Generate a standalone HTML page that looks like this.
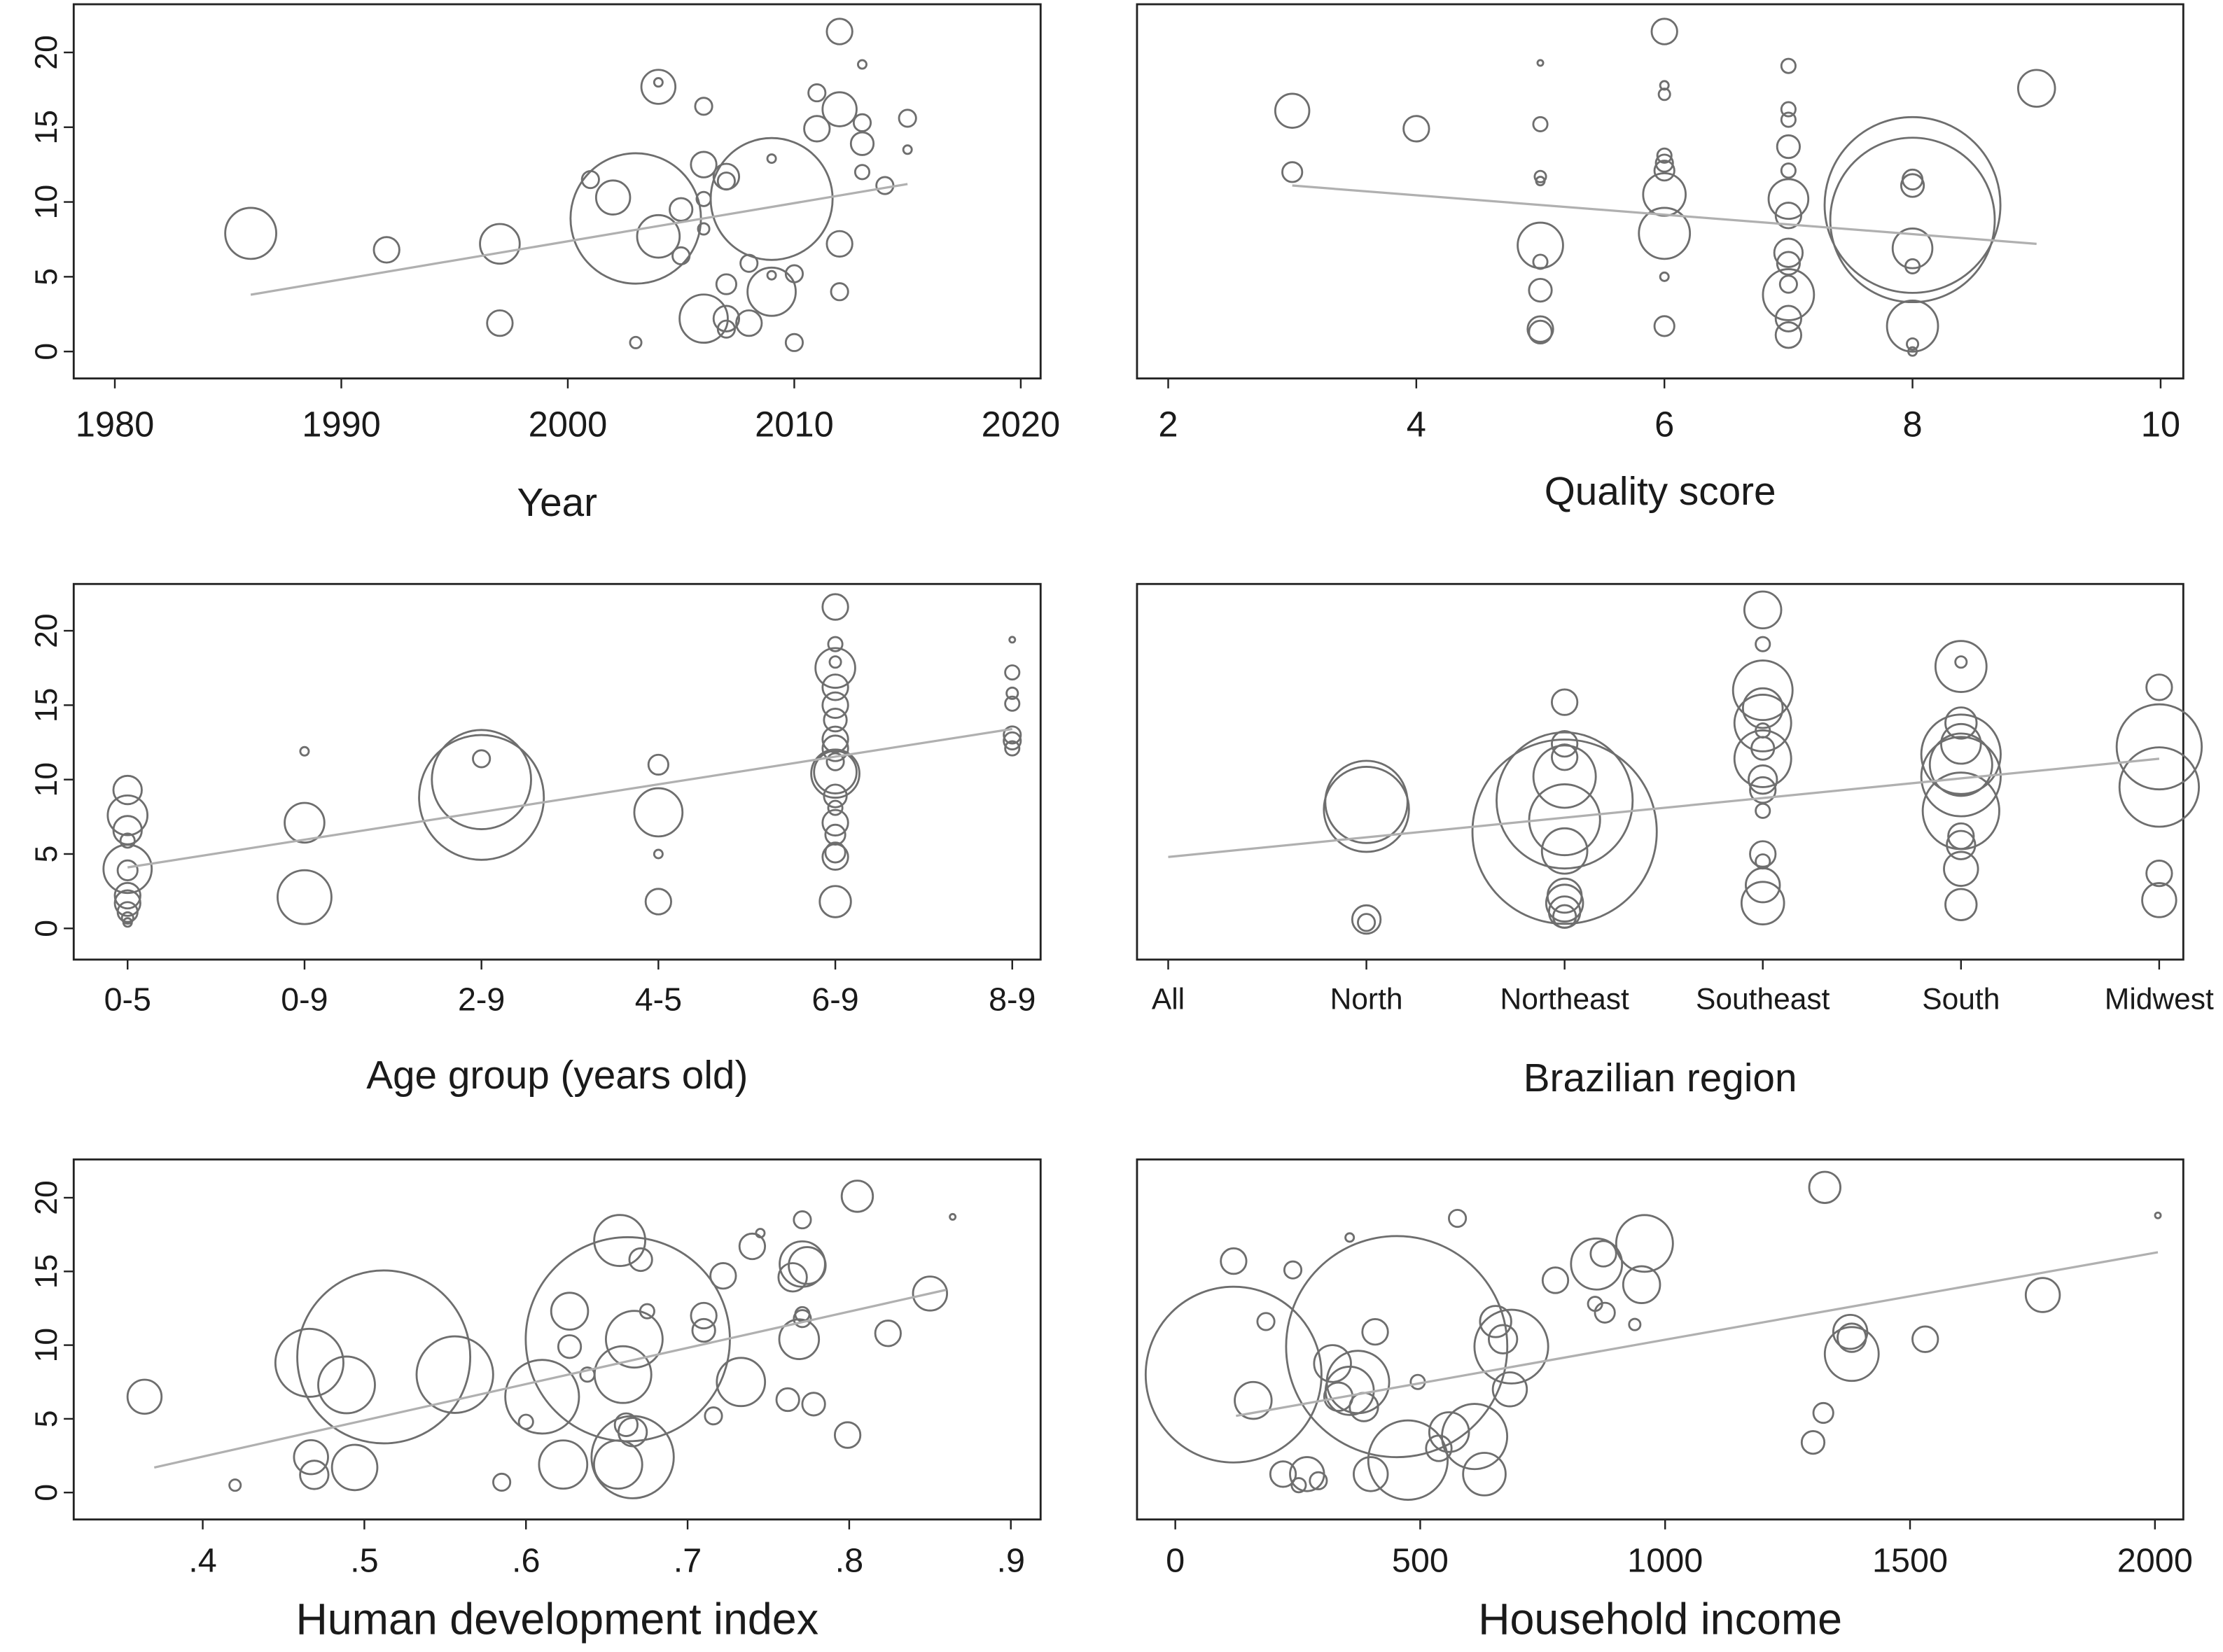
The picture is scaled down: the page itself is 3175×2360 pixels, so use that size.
<!DOCTYPE html>
<html><head><meta charset="utf-8">
<style>
html,body{margin:0;padding:0;background:#fff;}
svg{display:block;}
text{font-family:"Liberation Sans",Arial,sans-serif;fill:#1a1a1a;}
</style></head>
<body>
<svg id="chart" xmlns="http://www.w3.org/2000/svg" width="3175" height="2360" viewBox="0 0 1568 1165.5"></svg>
<script>
// ---- Panel 1: Year ----
const p1Years=[1986,1992,1997,1997,2001,2002,2003,2003,2004,2004,2004,2005,2005,2006,2006,2006,2006,2006,2007,2007,2007,2007,2007,2008,2008,2009,2009,2009,2009,2010,2010,2011,2011,2012,2012,2012,2012,2013,2013,2013,2013,2014,2015,2015];
const p1Values=[7.9,6.8,7.2,1.9,11.5,10.3,8.9,0.6,17.7,18.0,7.7,9.5,6.4,16.4,12.5,10.2,8.2,2.2,11.7,11.4,4.5,2.2,1.5,5.9,1.9,10.2,12.9,5.1,4.0,5.2,0.6,17.3,14.9,21.4,16.2,7.2,4.0,19.2,15.3,13.9,12.0,11.1,15.6,13.5];
const p1Sizes=[18,9,14,9,6,12,46,4,12,3,15,8,6,6,9,5,4,17,9,6,7,9,6,6,9,43,3,3,17,6,6,6,9,9,12,9,6,3,6,8,5,6,6,3];
const p1Fit=[[1986,3.8],[2015,11.2]];
const p1Ticks=[1980,1990,2000,2010,2020];
// ---- Panel 2: Quality score ----
const p2Scores=[3,3,4,5,5,5,5,5,5,5,5,5,6,6,6,6,6,6,6,6,6,6,7,7,7,7,7,7,7,7,7,7,7,7,7,8,8,8,8,8,8,8,8,8,9];
const p2Values=[16.1,12.0,14.9,19.3,15.2,11.7,11.4,7.1,6.0,4.1,1.5,1.3,21.4,17.8,17.2,13.1,12.6,12.1,10.5,7.9,5.0,1.7,19.1,16.2,15.5,13.7,12.1,10.2,9.1,6.6,5.9,4.5,3.8,2.2,1.1,11.5,11.1,9.8,8.8,6.9,5.7,1.7,0.5,0.0,17.6];
const p2Sizes=[12,7,9,2,5,4,3,16,5,8,9,8,9,3,4,5,6,7,15,18,3,7,5,5,5,8,5,14,9,10,8,6,18,9,9,7,8,62,58,14,5,18,4,3,13];
const p2Fit=[[3,11.1],[9,7.2]];
const p2Ticks=[2,4,6,8,10];
// ---- Panel 3: Age group ----
const p3Categories=["0-5","0-9","2-9","4-5","6-9","8-9"];
const p3Group=[0,0,0,0,0,0,0,0,0,0,0,1,1,1,2,2,2,3,3,3,3,4,4,4,4,4,4,4,4,4,4,4,4,4,4,4,4,4,4,4,5,5,5,5,5,5,5];
const p3Values=[9.3,7.6,6.6,5.9,4.0,3.9,2.2,1.7,1.1,0.7,0.4,11.9,7.1,2.1,11.4,10.0,8.8,11.0,7.8,5.0,1.8,21.6,19.1,17.9,17.5,16.2,15.0,14.0,12.7,12.1,11.2,10.5,10.4,8.9,8.1,7.1,6.3,5.1,4.8,1.8,19.4,17.2,15.8,15.1,13.0,12.6,12.1];
const p3Sizes=[10,14,10,5,17,7,9,9,7,4,3,3,14,19,6,35,44,7,17,3,9,9,5,4,14,9,9,8,9,9,6,15,17,8,5,9,7,7,9,11,2,5,4,5,6,6,5];
const p3Fit=[[0,4.1],[5,13.4]];
// ---- Panel 4: Brazilian region ----
const p4Categories=["All","North","Northeast","Southeast","South","Midwest"];
const p4Group=[1,1,1,1,2,2,2,2,2,2,2,2,2,2,2,2,3,3,3,3,3,3,3,3,3,3,3,3,3,3,3,4,4,4,4,4,4,4,4,4,4,4,4,5,5,5,5,5];
const p4Values=[8.5,8.0,0.6,0.4,15.2,12.4,11.5,10.2,8.6,7.3,6.5,5.2,2.2,1.7,1.1,0.8,21.4,19.1,16.0,14.8,13.8,13.3,12.1,11.4,10.0,9.3,7.9,5.0,4.5,2.9,1.7,17.6,17.9,13.8,12.4,11.7,11.0,10.2,7.9,6.2,5.6,4.0,1.6,16.2,12.2,9.5,3.7,1.9];
const p4Sizes=[29,30,10,6,9,9,9,22,48,25,65,16,12,13,11,8,13,5,21,14,20,5,8,20,10,9,5,9,5,12,15,18,4,11,14,28,22,28,27,9,10,12,11,9,30,28,9,12];
const p4Fit=[[0,4.8],[5,11.4]];
// ---- Panel 5: Human development index ----
const p5Hdi=[0.364,0.42,0.467,0.469,0.494,0.466,0.489,0.512,0.556,0.585,0.6,0.61,0.623,0.627,0.627,0.638,0.658,0.657,0.662,0.666,0.666,0.671,0.663,0.66,0.667,0.675,0.71,0.71,0.716,0.722,0.733,0.74,0.745,0.762,0.765,0.769,0.771,0.771,0.771,0.774,0.771,0.778,0.799,0.805,0.824,0.85,0.864];
const p5Values=[6.5,0.5,2.4,1.2,1.7,8.8,7.3,9.2,8.0,0.7,4.8,6.5,1.9,12.3,9.9,8.0,17.1,1.9,4.6,4.1,2.4,15.8,10.4,8.0,10.4,12.3,12.0,11.0,5.2,14.7,7.5,16.7,17.6,6.3,14.6,10.4,11.8,12.1,15.5,15.4,18.5,6.0,3.9,20.1,10.8,13.5,18.7];
const p5Sizes=[12,4,12,10,16,24,20,61,27,6,5,26,17,13,8,5,18,17,8,10,29,8,72,20,20,5,9,8,6,9,17,9,3,8,10,14,6,5,16,13,6,8,9,11,9,12,2];
const p5Fit=[[0.37,1.7],[0.86,13.75]];
const p5Ticks=[0.4,0.5,0.6,0.7,0.8,0.9];
const p5TickLabels=[".4",".5",".6",".7",".8",".9"];
// ---- Panel 6: Household income ----
const p6Income=[119,185,240,356,159,119,220,252,269,292,321,333,356,373,385,408,452,399,475,495,576,538,559,611,631,654,669,683,686,776,860,874,857,877,938,952,958,1302,1323,1326,1378,1381,1381,1531,1771,2006];
const p6Values=[15.7,11.6,15.1,17.3,6.25,8.0,1.25,0.5,1.25,0.8,8.75,6.5,6.9,7.5,5.8,10.9,9.9,1.25,2.2,7.5,18.6,3.0,4.1,3.8,1.25,11.6,10.4,7.0,9.9,14.4,15.5,16.2,12.8,12.2,11.4,14.1,16.9,3.4,5.4,20.7,10.9,10.5,9.4,10.4,13.4,18.8];
const p6Sizes=[9,6,6,3,13,62,9,5,12,6,13,10,17,22,10,9,78,12,28,5,6,9,14,23,15,11,10,12,26,9,18,9,5,7,4,13,20,8,7,11,12,10,19,9,12,2];
const p6Fit=[[124,5.2],[2006,16.3]];
const p6Ticks=[0,500,1000,1500,2000];
const yTicks=[0,5,10,15,20];

const svg=document.getElementById('chart');
const NS='http://www.w3.org/2000/svg';
function mk(tag,attrs,parent){const e=document.createElementNS(NS,tag);for(const k in attrs)e.setAttribute(k,attrs[k]);(parent||svg).appendChild(e);return e;}
function lin(d0,d1,r0,r1){return v=>r0+(v-d0)*(r1-r0)/(d1-d0);}

function panel(cfg){
  const g=mk('g',{});
  
  
  const b=cfg.box;
  const frame=mk('rect',{x:b[0],y:b[1],width:b[2]-b[0],height:b[3]-b[1],fill:'none',stroke:'#222','stroke-width':1.4},g);
  
  
  if(cfg.yLabels){
    yTicks.forEach(t=>{
      const y=cfg.ys(t);
      const tk=mk('line',{x1:b[0]-7,x2:b[0],y1:y,y2:y,stroke:'#222','stroke-width':1.2},g);
      
      
      const tx=mk('text',{x:0,y:0,'font-size':22,'text-anchor':'middle',transform:`translate(${b[0]-12},${y}) rotate(-90)`},g);
      tx.textContent=String(t);
      
      
    });
  }
  cfg.xTicks.forEach((t,i)=>{
    const x=cfg.xs(t);
    const tk=mk('line',{x1:x,x2:x,y1:b[3],y2:b[3]+7,stroke:'#222','stroke-width':1.2},g);
    
    
    const tx=mk('text',{x:x,y:b[3]+cfg.tickDy,'font-size':cfg.tickFs,'text-anchor':'middle'},g);
    tx.textContent=cfg.xTickLabels[i];
    
    
  });
  const title=mk('text',{x:(b[0]+b[2])/2,y:cfg.titleY,'font-size':cfg.titleFs,'text-anchor':'middle'},g);
  title.textContent=cfg.title;
  
  
  cfg.x.forEach((xv,i)=>{
    const c=mk('circle',{cx:cfg.xs(xv),cy:cfg.ys(cfg.y[i]),r:cfg.r[i],fill:'none',stroke:'#6e6e6e','stroke-width':1.4},g);
    
    
  });
  const f=cfg.fit;
  const ln=mk('line',{x1:cfg.xs(f[0][0]),y1:cfg.ys(f[0][1]),x2:cfg.xs(f[1][0]),y2:cfg.ys(f[1][1]),stroke:'#b0b0b0','stroke-width':1.6},g);
  
  
}

const ysTop=lin(0,20,248,37), ysMid=lin(0,20,655,445), ysBot=lin(0,20,1053,845);
const idx=[0,1,2,3,4,5];
panel({name:'year-panel',box:[52,3,734,267],xs:lin(1980,2020,81,720),ys:ysTop,yLabels:true,
  xTicks:p1Ticks,xTickLabels:p1Ticks.map(String),tickDy:41,tickFs:25,title:'Year',titleY:364,titleFs:28,
  x:p1Years,y:p1Values,r:p1Sizes,fit:p1Fit});
panel({name:'quality-score-panel',box:[802,3,1540,267],xs:lin(2,10,824,1524),ys:ysTop,yLabels:false,
  xTicks:p2Ticks,xTickLabels:p2Ticks.map(String),tickDy:41,tickFs:25,title:'Quality score',titleY:356,titleFs:28,
  x:p2Scores,y:p2Values,r:p2Sizes,fit:p2Fit});
panel({name:'age-group-panel',box:[52,412,734,677],xs:lin(0,5,90,714),ys:ysMid,yLabels:true,
  xTicks:idx,xTickLabels:p3Categories,tickDy:36,tickFs:23,title:'Age group (years old)',titleY:768,titleFs:28,
  x:p3Group,y:p3Values,r:p3Sizes,fit:p3Fit});
panel({name:'brazilian-region-panel',box:[802,412,1540,677],xs:lin(0,5,824,1523),ys:ysMid,yLabels:false,
  xTicks:idx,xTickLabels:p4Categories,tickDy:35,tickFs:21,title:'Brazilian region',titleY:770,titleFs:28,
  x:p4Group,y:p4Values,r:p4Sizes,fit:p4Fit});
panel({name:'hdi-panel',box:[52,818,734,1072],xs:lin(0.4,0.9,143,713),ys:ysBot,yLabels:true,
  xTicks:p5Ticks,xTickLabels:p5TickLabels,tickDy:37,tickFs:24,title:'Human development index',titleY:1153,titleFs:31,
  x:p5Hdi,y:p5Values,r:p5Sizes,fit:p5Fit});
panel({name:'household-income-panel',box:[802,818,1540,1072],xs:lin(0,2000,829,1520),ys:ysBot,yLabels:false,
  xTicks:p6Ticks,xTickLabels:p6Ticks.map(String),tickDy:37,tickFs:24,title:'Household income',titleY:1153,titleFs:31,
  x:p6Income,y:p6Values,r:p6Sizes,fit:p6Fit});
</script>
</body></html>
